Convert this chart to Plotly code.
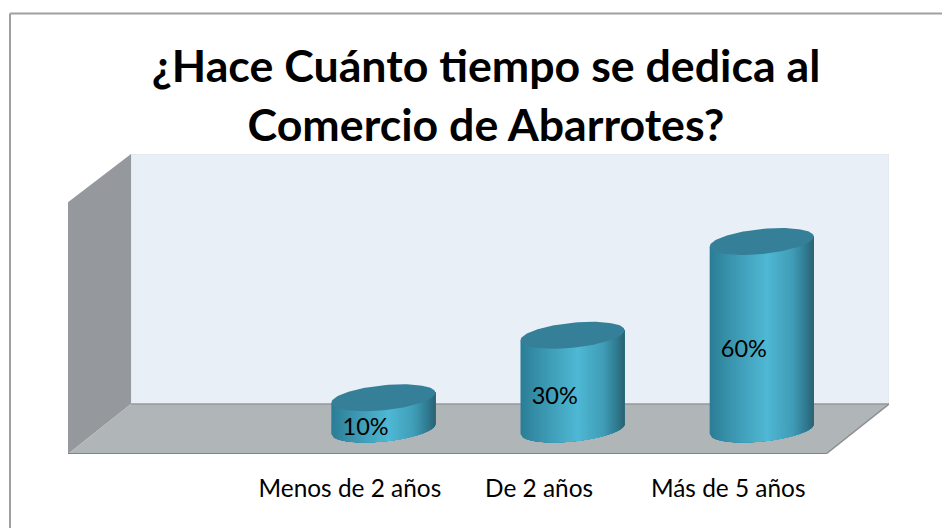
import numpy as np
import plotly.graph_objects as go

# ---- data ----
categories = ["Menos de 2 años", "De 2 años", "Más de 5 años"]
values = [10, 30, 60]
labels = ["10%", "30%", "60%"]
title_lines = ["¿Hace Cuánto tiempo se dedica al", "Comercio de Abarrotes?"]

# ---- style ----
PAGE = 8                             # browser body margin
W, H = 950 - PAGE, 528 - PAGE
M_L, M_R, M_T, M_B = 60, 61, 146, 74
X_RANGE = [-1.49, 2.85]
Y_RANGE = [0, 96]
DEPTH_X, DEPTH_Y = 0.333, 16.0      # oblique depth vector in axis units
WALL_TOP = 80.6
BAR_A = 0.275                        # half width
BAR_B = 4.0                          # ellipse half height
BAR_S = 1.6                          # ellipse shear
BAR_DX, BAR_DY = 0.177, 8.0          # bar offset into the box
LABEL_DX, LABEL_DY = 0.083, 3.0
N_STRIPS = 52
GRAD_U = [-1.0, -0.6, 0.1, 0.6, 0.85, 1.0]
GRAD_C = [(42, 125, 149), (58, 148, 174), (79, 184, 212), (63, 156, 182), (47, 122, 144), (43, 98, 114)]
TOP_COLOR = "#367f98"
FONT = "Lato"


def lerp_color(u):
    rgb = [np.interp(u, GRAD_U, [c[i] for c in GRAD_C]) for i in range(3)]
    return "rgb(%d,%d,%d)" % tuple(int(round(v)) for v in rgb)


def poly_path(points):
    return "M " + " L ".join(f"{x},{y}" for x, y in points) + " Z"


x0, y0 = X_RANGE[0], 0
x1 = X_RANGE[1] - DEPTH_X
y_top = Y_RANGE[1]
wall_left = [(x0, 0), (x0, WALL_TOP), (x0 + DEPTH_X, y_top), (x0 + DEPTH_X, DEPTH_Y)]
wall_back = [(x0 + DEPTH_X, DEPTH_Y), (x0 + DEPTH_X, y_top), (x1 + DEPTH_X, y_top), (x1 + DEPTH_X, DEPTH_Y)]
floor = [(x0, 0), (x1, 0), (x1 + DEPTH_X, DEPTH_Y), (x0 + DEPTH_X, DEPTH_Y)]

shapes = [
    dict(type="path", path=poly_path(wall_back), xref="x", yref="y", fillcolor="#e8eff6", line=dict(color="#dde3e8", width=1), layer="below"),
    dict(type="path", path=poly_path(wall_left), xref="x", yref="y", fillcolor="#95989c", line=dict(width=0), layer="below"),
    dict(type="path", path=poly_path(floor), xref="x", yref="y", fillcolor="#b0b5b8", line=dict(width=0), layer="below"),
    dict(type="line", xref="x", yref="y", x0=x0 + DEPTH_X, y0=DEPTH_Y, x1=x1 + DEPTH_X, y1=DEPTH_Y, line=dict(color="#98999b", width=1.5), layer="below"),
    dict(type="line", xref="x", yref="y", x0=x0, y0=0, x1=x1, y1=0, line=dict(color="#808285", width=2), layer="below"),
    dict(type="line", xref="x", yref="y", x0=x1, y0=0, x1=x1 + DEPTH_X, y1=DEPTH_Y, line=dict(color="#8c8e90", width=1.5), layer="below"),
]

# outer chart frame: only top and left edges are visible
def px_x(p):
    return (p - PAGE - M_L) / (W - M_L - M_R)
def px_y(p):
    return (H - M_B - (p - PAGE)) / (H - M_T - M_B)

shapes.append(dict(type="line", xref="paper", yref="paper", x0=px_x(10), x1=px_x(950), y0=px_y(13.5), y1=px_y(13.5), line=dict(color="#a0a0a0", width=2)))
shapes.append(dict(type="line", xref="paper", yref="paper", x0=px_x(10), x1=px_x(10), y0=px_y(13.5), y1=px_y(528), line=dict(color="#a0a0a0", width=2)))

fig = go.Figure()

for i, v in enumerate(values):
    xc = i + BAR_DX
    yb = BAR_DY
    yt = yb + v
    edges = np.linspace(-1, 1, N_STRIPS + 1)
    for u in edges[:-1]:
        us = np.linspace(u, 1, 40)
        low = yb + BAR_S * us - BAR_B * np.sqrt(np.clip(1 - us ** 2, 0, 1))
        xs = np.concatenate([xc + BAR_A * us, [xc + BAR_A, xc + BAR_A * u, xc + BAR_A * u]])
        ys = np.concatenate([low, [yt + BAR_S, yt + BAR_S * u, low[0]]])
        fig.add_trace(go.Scatter(x=xs, y=ys, mode="lines", fill="toself", fillcolor=lerp_color(u + 1 / N_STRIPS),
                                 line=dict(width=0), hoverinfo="skip", showlegend=False))
    t = np.linspace(0, 2 * np.pi, 121)
    us = np.cos(t)
    fig.add_trace(go.Scatter(x=xc + BAR_A * us, y=yt + BAR_S * us + BAR_B * np.sin(t), mode="lines", fill="toself",
                             fillcolor=TOP_COLOR, line=dict(width=0), hoverinfo="skip", showlegend=False))

fig.add_trace(go.Scatter(
    x=[i + LABEL_DX for i in range(len(values))],
    y=[v / 2 + LABEL_DY for v in values],
    mode="text", text=labels, textposition="middle center",
    textfont=dict(family=FONT, size=23.5, color="#000000"), hoverinfo="skip", showlegend=False))

fig.update_layout(
    width=W, height=H,
    margin=dict(l=M_L, r=M_R, t=M_T, b=M_B, pad=0),
    paper_bgcolor="#ffffff", plot_bgcolor="rgba(0,0,0,0)",
    showlegend=False, hovermode=False, shapes=shapes,
    title=dict(
        text="<br>".join(f'<span style="font-size:44.7px">{t}</span>' for t in title_lines),
        x=(486 - PAGE) / W, xanchor="center", y=1 - 73.5 / H, yanchor="top", yref="container",
        font=dict(family=FONT, size=46, color="#000000", weight="bold"),
    ),
    xaxis=dict(range=X_RANGE, tickmode="array", tickvals=list(range(len(categories))), ticktext=categories,
               showgrid=False, zeroline=False, showline=False, ticks="outside", ticklen=13, tickcolor="rgba(0,0,0,0)",
               tickfont=dict(family=FONT, size=24.4, color="#000000"), fixedrange=True),
    yaxis=dict(range=Y_RANGE, visible=False, fixedrange=True),
)

fig.write_html("out.html")
